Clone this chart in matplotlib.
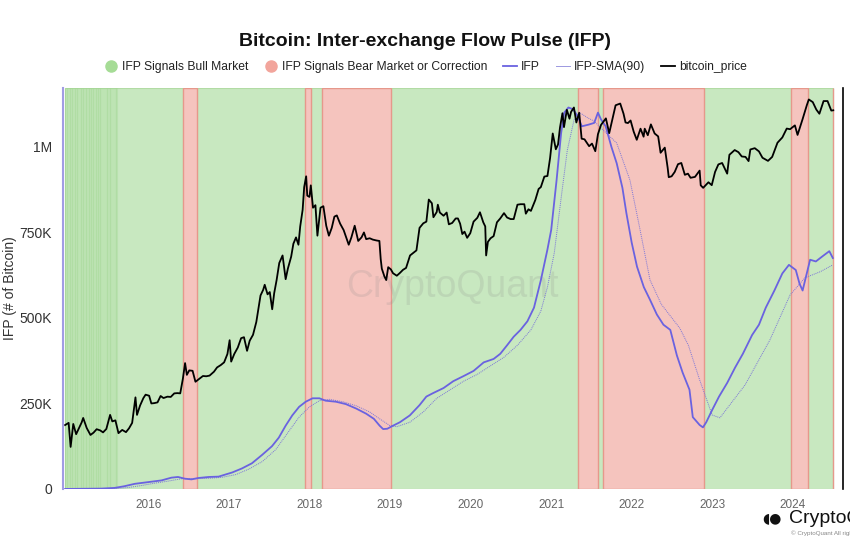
import matplotlib.pyplot as plt
import matplotlib.dates as mdates
from matplotlib.lines import Line2D
from matplotlib.ticker import NullLocator
import pandas as pd

plt.rcParams['font.family'] = ['Liberation Sans', 'DejaVu Sans']

# signal bands
bull_bands = [("2014-12-20", "2016-06-06"), ("2016-08-07", "2017-12-13"),
              ("2018-01-10", "2018-02-26"), ("2019-01-04", "2021-05-01"),
              ("2021-08-03", "2021-08-26"), ("2022-11-26", "2023-12-24"),
              ("2024-03-11", "2024-06-30")]
bear_bands = [("2016-06-06", "2016-08-07"), ("2017-12-13", "2018-01-10"),
              ("2018-02-26", "2019-01-04"), ("2021-05-01", "2021-08-03"),
              ("2021-08-26", "2022-11-26"), ("2023-12-24", "2024-03-11"),
              ("2024-06-30", "2024-07-03")]
# short on/off bull signals in early 2015
early_bull_edges = ["2014-12-20", "2014-12-28", "2015-01-12", "2015-01-21", "2015-02-03",
                    "2015-02-14", "2015-03-01", "2015-03-13", "2015-03-25", "2015-04-07",
                    "2015-04-16", "2015-04-27", "2015-05-10", "2015-05-16", "2015-05-28",
                    "2015-06-28", "2015-07-10", "2015-08-07", "2015-08-12"]

ifp_dates = ["2014-12-20", "2015-06-01", "2015-08-01", "2015-09-15", "2015-11-01", "2016-01-01",
             "2016-03-01", "2016-04-15", "2016-05-15", "2016-06-15", "2016-07-15", "2016-08-15",
             "2016-10-01", "2016-11-15", "2016-12-15", "2017-01-15", "2017-03-01", "2017-04-15",
             "2017-06-01", "2017-07-15", "2017-08-15", "2017-09-15", "2017-10-15", "2017-11-15",
             "2017-12-15", "2018-01-15", "2018-02-15", "2018-03-15", "2018-05-01", "2018-06-15",
             "2018-08-01", "2018-09-15", "2018-10-20", "2018-11-15", "2018-12-01", "2018-12-20",
             "2019-01-15", "2019-02-15", "2019-04-01", "2019-05-15", "2019-06-15", "2019-07-15",
             "2019-09-01", "2019-10-15", "2019-12-01", "2020-01-15", "2020-03-01", "2020-04-15",
             "2020-05-15", "2020-06-15", "2020-07-15", "2020-08-15", "2020-09-15", "2020-10-15",
             "2020-11-15", "2020-12-15", "2021-01-01", "2021-01-25", "2021-02-15", "2021-03-01",
             "2021-03-20", "2021-04-10", "2021-05-01", "2021-05-20", "2021-06-20", "2021-07-15",
             "2021-08-01", "2021-08-15", "2021-09-05", "2021-10-01", "2021-10-25", "2021-11-20",
             "2021-12-08", "2022-01-01", "2022-01-25", "2022-02-25", "2022-03-25", "2022-04-25",
             "2022-05-25", "2022-06-25", "2022-07-25", "2022-08-20", "2022-09-20", "2022-10-05",
             "2022-11-05", "2022-11-20", "2022-12-05", "2023-01-01", "2023-02-01", "2023-03-10",
             "2023-04-15", "2023-05-20", "2023-07-01", "2023-08-01", "2023-09-01", "2023-10-10",
             "2023-11-15", "2023-12-15", "2024-01-15", "2024-02-01", "2024-02-15", "2024-03-01",
             "2024-03-20", "2024-04-15", "2024-05-15", "2024-06-15", "2024-07-01"]
ifp_values = [0, 1000, 3000, 8000, 15000, 20000,
              25000, 33000, 35000, 30000, 28000, 32000,
              35000, 36000, 42000, 48000, 60000, 75000,
              100000, 125000, 150000, 185000, 215000, 240000,
              255000, 265000, 265000, 258000, 255000, 248000,
              235000, 220000, 205000, 185000, 175000, 176000,
              185000, 195000, 215000, 245000, 270000, 280000,
              295000, 315000, 330000, 345000, 370000, 380000,
              395000, 420000, 445000, 465000, 490000, 530000,
              610000, 700000, 757000, 900000, 1040000, 1100000,
              1115000, 1110000, 1090000, 1060000, 1065000, 1070000,
              1100000, 1080000, 1060000, 1000000, 952000, 880000,
              806000, 720000, 650000, 590000, 553000, 510000,
              480000, 465000, 390000, 340000, 290000, 210000,
              187000, 180000, 195000, 231000, 270000, 310000,
              355000, 395000, 450000, 480000, 530000, 580000,
              630000, 655000, 640000, 600000, 580000, 620000,
              670000, 665000, 680000, 695000, 675000]

sma_dates = ["2014-12-20", "2015-08-01", "2015-10-01", "2015-12-01", "2016-02-01", "2016-04-01",
             "2016-06-01", "2016-08-01", "2016-10-01", "2016-12-01", "2017-02-01", "2017-04-01",
             "2017-06-01", "2017-08-01", "2017-10-01", "2017-11-15", "2018-01-01", "2018-02-15",
             "2018-04-01", "2018-06-01", "2018-08-01", "2018-10-01", "2018-11-15", "2019-01-01",
             "2019-02-01", "2019-04-01", "2019-06-01", "2019-08-01", "2019-10-01", "2019-12-01",
             "2020-02-01", "2020-04-01", "2020-06-01", "2020-08-01", "2020-10-01", "2020-11-15",
             "2020-12-15", "2021-01-15", "2021-02-15", "2021-03-15", "2021-04-15", "2021-05-10",
             "2021-06-15", "2021-07-15", "2021-08-10", "2021-10-25", "2021-12-24", "2022-02-05",
             "2022-03-25", "2022-05-15", "2022-08-07", "2022-09-15", "2022-11-05", "2023-01-01",
             "2023-02-05", "2023-03-15", "2023-05-30", "2023-09-20", "2023-12-20", "2024-02-25",
             "2024-05-05", "2024-07-01"]
sma_values = [0, 1000, 4000, 10000, 17000, 23000,
              30000, 30000, 31000, 34000, 42000, 58000,
              80000, 115000, 170000, 210000, 240000, 258000,
              262000, 255000, 243000, 225000, 205000, 185000,
              182000, 195000, 225000, 265000, 290000, 315000,
              335000, 360000, 385000, 420000, 465000, 520000,
              590000, 690000, 850000, 990000, 1080000, 1100000,
              1085000, 1075000, 1058000, 1011000, 903000, 767000,
              611000, 540000, 470000, 420000, 319000, 216000,
              208000, 240000, 304000, 436000, 567000, 617000,
              635000, 655000]

price_dates = ["2014-12-20", "2015-01-05", "2015-01-14", "2015-01-26", "2015-02-08", "2015-02-20",
               "2015-03-05", "2015-03-12", "2015-03-28", "2015-04-14", "2015-04-28", "2015-05-12",
               "2015-05-28", "2015-06-10", "2015-06-25", "2015-07-12", "2015-07-22", "2015-08-05",
               "2015-08-19", "2015-09-05", "2015-09-22", "2015-10-06", "2015-10-20", "2015-11-04",
               "2015-11-11", "2015-11-25", "2015-12-10", "2015-12-20", "2016-01-05", "2016-01-15",
               "2016-01-28", "2016-02-12", "2016-02-26", "2016-03-10", "2016-03-28", "2016-04-12",
               "2016-04-28", "2016-05-12", "2016-05-25", "2016-06-06", "2016-06-16", "2016-06-24",
               "2016-07-05", "2016-07-20", "2016-08-02", "2016-08-20", "2016-09-05", "2016-09-20",
               "2016-10-05", "2016-10-25", "2016-11-08", "2016-11-25", "2016-12-10", "2016-12-25",
               "2017-01-04", "2017-01-11", "2017-01-25", "2017-02-10", "2017-02-25", "2017-03-10",
               "2017-03-24", "2017-04-05", "2017-04-20", "2017-05-05", "2017-05-24", "2017-06-05",
               "2017-06-12", "2017-06-25", "2017-07-05", "2017-07-16", "2017-07-25", "2017-08-05",
               "2017-08-17", "2017-09-01", "2017-09-15", "2017-09-25", "2017-10-10", "2017-10-20",
               "2017-11-01", "2017-11-12", "2017-11-20", "2017-12-01", "2017-12-08", "2017-12-17",
               "2017-12-22", "2018-01-01", "2018-01-07", "2018-01-17", "2018-01-28", "2018-02-06",
               "2018-02-20", "2018-03-05", "2018-03-18", "2018-03-30", "2018-04-12", "2018-04-24",
               "2018-05-05", "2018-05-20", "2018-06-05", "2018-06-28", "2018-07-10", "2018-07-25",
               "2018-08-10", "2018-08-25", "2018-09-05", "2018-09-15", "2018-10-01", "2018-10-15",
               "2018-11-01", "2018-11-14", "2018-11-20", "2018-11-25", "2018-12-07", "2018-12-15",
               "2018-12-24", "2019-01-05", "2019-01-15", "2019-02-01", "2019-02-15", "2019-03-01",
               "2019-03-15", "2019-04-02", "2019-04-15", "2019-05-01", "2019-05-15", "2019-06-01",
               "2019-06-15", "2019-06-26", "2019-07-10", "2019-07-17", "2019-08-01", "2019-08-06",
               "2019-08-15", "2019-09-01", "2019-09-15", "2019-09-25", "2019-10-10", "2019-10-26",
               "2019-11-05", "2019-11-15", "2019-11-25", "2019-12-05", "2019-12-17", "2019-12-31",
               "2020-01-15", "2020-02-01", "2020-02-13", "2020-02-28", "2020-03-08", "2020-03-12",
               "2020-03-20", "2020-04-01", "2020-04-15", "2020-04-30", "2020-05-15", "2020-06-01",
               "2020-06-15", "2020-07-01", "2020-07-15", "2020-08-01", "2020-08-15", "2020-09-01",
               "2020-09-08", "2020-09-20", "2020-10-01", "2020-10-21", "2020-11-05", "2020-11-15",
               "2020-12-01", "2020-12-15", "2020-12-27", "2021-01-08", "2021-01-22", "2021-02-01",
               "2021-02-10", "2021-02-21", "2021-02-28", "2021-03-13", "2021-03-25", "2021-04-01",
               "2021-04-14", "2021-04-25", "2021-05-08", "2021-05-19", "2021-06-01", "2021-06-22",
               "2021-07-05", "2021-07-20", "2021-08-01", "2021-08-15", "2021-09-06", "2021-09-21",
               "2021-10-01", "2021-10-20", "2021-11-10", "2021-11-25", "2021-12-04", "2021-12-15",
               "2021-12-27", "2022-01-10", "2022-01-24", "2022-02-10", "2022-02-24", "2022-03-01",
               "2022-03-15", "2022-03-29", "2022-04-15", "2022-05-01", "2022-05-12", "2022-05-31",
               "2022-06-13", "2022-06-18", "2022-07-01", "2022-07-15", "2022-07-30", "2022-08-14",
               "2022-08-30", "2022-09-13", "2022-09-25", "2022-10-15", "2022-11-05", "2022-11-10",
               "2022-11-21", "2022-12-15", "2022-12-30", "2023-01-14", "2023-01-29", "2023-02-15",
               "2023-03-10", "2023-03-20", "2023-04-13", "2023-04-30", "2023-05-15", "2023-06-01",
               "2023-06-15", "2023-06-23", "2023-07-13", "2023-08-01", "2023-08-17", "2023-09-11",
               "2023-09-30", "2023-10-24", "2023-11-15", "2023-12-05", "2023-12-20", "2024-01-11",
               "2024-01-23", "2024-02-15", "2024-03-05", "2024-03-14", "2024-04-01", "2024-04-17",
               "2024-05-01", "2024-05-20", "2024-06-07", "2024-06-24", "2024-07-03"]
price_usd = [260, 270, 178, 265, 222, 245,
             272, 294, 247, 219, 228, 242,
             237, 229, 243, 310, 277, 282,
             226, 239, 230, 246, 270, 420,
             310, 365, 415, 440, 432, 378,
             380, 385, 430, 415, 425, 423,
             450, 452, 450, 580, 760, 620,
             670, 665, 550, 580, 608, 605,
             612, 655, 705, 735, 770, 890,
             1130, 780, 890, 995, 1170, 1190,
             940, 1120, 1240, 1550, 2450, 2700,
             2950, 2500, 2600, 1930, 2550, 3200,
             4300, 4900, 3250, 3900, 4800, 6000,
             6700, 5900, 8100, 10800, 16000, 19300,
             13800, 13500, 16500, 11200, 11700, 6900,
             11200, 11500, 8200, 6900, 7900, 9600,
             9800, 8500, 7600, 5900, 6700, 8200,
             6300, 6700, 7300, 6500, 6600, 6450,
             6350, 6300, 4600, 3900, 3400, 3200,
             4000, 3850, 3600, 3450, 3620, 3820,
             3950, 4900, 5100, 5350, 7900, 8550,
             8800, 12900, 12100, 9500, 10400, 11800,
             10300, 9750, 10300, 8400, 8600, 9300,
             9300, 8500, 7100, 7400, 6650, 7200,
             8800, 9400, 10350, 8700, 8100, 4900,
             6200, 6600, 6850, 8700, 9300, 10200,
             9450, 9200, 9200, 11800, 11900, 11900,
             10100, 10900, 10600, 12800, 15500, 16000,
             19200, 19400, 26500, 40500, 30800, 33500,
             45000, 57500, 45200, 61000, 52300, 58800,
             63500, 49000, 58000, 37000, 36600, 32500,
             34000, 29800, 40000, 47000, 52600, 40700,
             48000, 66000, 68000, 57000, 49000, 48500,
             50700, 41800, 36300, 44000, 38300, 44000,
             39300, 47400, 40500, 38500, 29000, 31700,
             22400, 19000, 19300, 20800, 23800, 24300,
             19800, 20200, 18800, 19100, 21300, 16500,
             15800, 17400, 16550, 20800, 23700, 24300,
             20200, 28000, 30400, 29300, 27200, 27000,
             25100, 30700, 31400, 29700, 26600, 25200,
             27000, 34500, 37800, 44100, 43600, 46600,
             39500, 52000, 66000, 73000, 69700, 61300,
             57000, 71000, 71000, 60200, 60500]

yticks = [0, 250000, 500000, 750000, 1000000]
ytick_labels = ["0", "250K", "500K", "750K", "1M"]
xtick_years = [2016, 2017, 2018, 2019, 2020, 2021, 2022, 2023, 2024]

green = "#c8e8c0"
red = "#f5c4be"
ifp_color = "#6a62e0"

fig = plt.figure(figsize=(8.5, 5.5), dpi=100)
ax = fig.add_axes([0.074, 0.111, 0.918, 0.729])

for start, end in bull_bands:
    ax.axvspan(pd.Timestamp(start), pd.Timestamp(end), facecolor=green,
               edgecolor="#b2dba4", linewidth=0.8, zorder=0)
for start, end in bear_bands:
    ax.axvspan(pd.Timestamp(start), pd.Timestamp(end), facecolor=red,
               edgecolor="#e6988b", linewidth=1.0, zorder=0)
for i in range(len(early_bull_edges) - 1):
    ax.axvspan(pd.Timestamp(early_bull_edges[i]), pd.Timestamp(early_bull_edges[i + 1]),
               facecolor="#8fd27a", alpha=0.18, edgecolor="#9ad488", linewidth=0.8, zorder=0.5)

ax.plot(pd.to_datetime(sma_dates), sma_values, color="#7c76d8", linewidth=0.7,
        linestyle=(0, (1, 1)), zorder=2)
ax.plot(pd.to_datetime(ifp_dates), ifp_values, color=ifp_color, linewidth=1.3, zorder=3)

ax.text(0.499, 0.504, "CryptoQuant", transform=ax.transAxes, fontsize=27,
        color="#888888", alpha=0.18, ha="center", va="center", zorder=1)

ax.set_xlim(pd.Timestamp("2014-12-10"), pd.Timestamp("2024-08-17"))
ax.set_ylim(0, 1172000)
ax.set_yticks(yticks)
ax.set_yticklabels(ytick_labels)
ax.set_xticks([pd.Timestamp(f"{y}-01-01") for y in xtick_years])
ax.xaxis.set_major_formatter(mdates.DateFormatter("%Y"))
ax.tick_params(axis="y", length=0, pad=8, labelsize=10, labelcolor="#333333")
ax.tick_params(axis="x", length=0, pad=7, labelsize=8.5, labelcolor="#666666")
ax.set_ylabel("IFP (# of Bitcoin)", fontsize=10, color="#333333")
ax.yaxis.set_label_coords(-0.059, 0.5)
for side in ["top", "right", "bottom"]:
    ax.spines[side].set_visible(False)
ax.spines["left"].set_color("#a19ce4")
ax.spines["left"].set_linewidth(1.5)

ax2 = ax.twinx()
ax2.plot(pd.to_datetime(price_dates), price_usd, color="black", linewidth=1.3)
ax2.set_yscale("log")
ax2.set_ylim(86, 89000)
ax2.yaxis.set_major_locator(NullLocator())
ax2.yaxis.set_minor_locator(NullLocator())
for side in ["top", "left", "bottom"]:
    ax2.spines[side].set_visible(False)
ax2.spines["right"].set_color("black")
ax2.spines["right"].set_linewidth(1.2)

fig.text(0.5, 0.924, "Bitcoin: Inter-exchange Flow Pulse (IFP)", fontsize=14,
         fontweight="bold", ha="center", va="center", color="#111111")

handles = [
    Line2D([], [], linestyle="none", marker="o", markersize=8, color="#a6dc96"),
    Line2D([], [], linestyle="none", marker="o", markersize=8, color="#f2a59c"),
    Line2D([], [], color=ifp_color, linewidth=1.3),
    Line2D([], [], color="#9c98e0", linewidth=0.7),
    Line2D([], [], color="black", linewidth=1.3),
]
labels = ["IFP Signals Bull Market", "IFP Signals Bear Market or Correction",
          "IFP", "IFP-SMA(90)", "bitcoin_price"]
fig.legend(handles, labels, loc="center", bbox_to_anchor=(0.5, 0.878), ncol=5,
           frameon=False, fontsize=8.7, handlelength=1.2, handletextpad=0.3,
           columnspacing=1.3, labelcolor="#222222")

# logo in the corner, cut by the right edge as in the source image
fig.text(0.897, 0.058, "\u25D6\u25CF", fontsize=10, ha="left", va="center",
         color="#111111", family=["DejaVu Sans"])
fig.text(0.928, 0.058, "CryptoQuant", fontsize=14, ha="left", va="center", color="#111111")
fig.text(0.931, 0.031, "\u00a9 CryptoQuant All rights reserved.", fontsize=4.5,
         ha="left", va="center", color="#888888")

fig.savefig("out.png", dpi=100)
